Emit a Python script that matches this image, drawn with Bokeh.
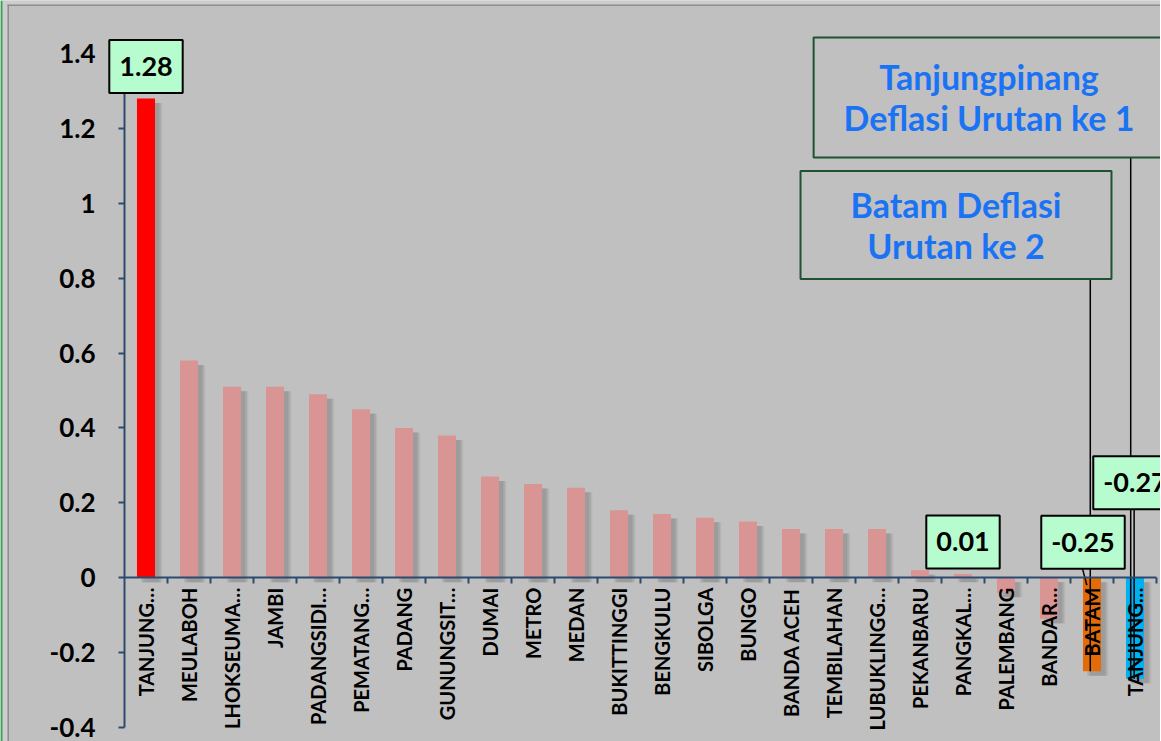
import math
from bokeh.plotting import figure
from bokeh.models import Range1d, FixedTicker, Label, BoxAnnotation
from bokeh.embed import file_html
from bokeh.resources import INLINE

# ---------------- data ----------------
cities = ["TANJUNG…", "MEULABOH", "LHOKSEUMA…", "JAMBI", "PADANGSIDI…", "PEMATANG…",
          "PADANG", "GUNUNGSIT…", "DUMAI", "METRO", "MEDAN", "BUKITTINGGI", "BENGKULU",
          "SIBOLGA", "BUNGO", "BANDA ACEH", "TEMBILAHAN", "LUBUKLINGG…", "PEKANBARU",
          "PANGKAL…", "PALEMBANG", "BANDAR…", "BATAM", "TANJUNG…"]
inflation = [1.28, 0.58, 0.51, 0.51, 0.49, 0.45, 0.40, 0.38, 0.27, 0.25, 0.24, 0.18,
             0.17, 0.16, 0.15, 0.13, 0.13, 0.13, 0.02, 0.01, -0.04, -0.11, -0.25, -0.27]
y_ticks = [-0.4, -0.2, 0, 0.2, 0.4, 0.6, 0.8, 1, 1.2, 1.4]
y_tick_labels = ["-0.4", "-0.2", "0", "0.2", "0.4", "0.6", "0.8", "1", "1.2", "1.4"]
labelled = [0, 19, 22, 23]
callout_texts = ["Tanjungpinang\nDeflasi Urutan ke 1", "Batam Deflasi\nUrutan ke 2"]
callout_bars = [23, 22]

# ---------------- style / layout ----------------
BG = "#C0C0C0"
AXIS = "#2c4a6e"
FONT = "Lato"
base_color = "#D99594"
special_colors = {0: "#FF0000", 22: "#E36C09", 23: "#00B0F0"}
colors = [special_colors.get(i, base_color) for i in range(len(cities))]
# label offsets (px) relative to bar end
label_offsets = {0: (0, 32), 19: (0, 32), 22: (-9, 129), 23: (0, 196)}
# callout: (x offset px, y centre data, y bottom data, padding (h, v), leader dx)
callout_layout = [(-146, 1.2825, 1.122, (30, 19), -0.1),
                  (-136, 0.942, 0.796, (50, 13), -0.04)]

W, H = 1160, 741
PX_PER_CAT = 43.0
PX_PER_UNIT = 374.4
AXIS_X_PX = 124      # y-axis pixel position
TOP_PX = 53          # pixel of y = 1.4

n = len(cities)
xc = [i + 0.5 for i in range(n)]
x0 = -AXIS_X_PX / PX_PER_CAT
x1 = x0 + W / PX_PER_CAT
y1 = y_ticks[-1] + TOP_PX / PX_PER_UNIT
y0 = y1 - H / PX_PER_UNIT

def px_x(px):
    return x0 + px / PX_PER_CAT

def px_y(px):
    return y1 - px / PX_PER_UNIT

p = figure(width=W, height=H, x_range=Range1d(x0, x1), y_range=Range1d(y0, y1),
           output_backend="svg", toolbar_location=None,
           min_border_left=0, min_border_right=0, min_border_top=0, min_border_bottom=0)
p.background_fill_color = BG
p.border_fill_color = BG
p.outline_line_color = None
p.grid.visible = False

# outer frame decoration (slide margin + chart border)
deco = dict(fill_alpha=1, line_alpha=0)
p.add_layout(BoxAnnotation(right=px_x(7), fill_color="#cdcdcd", **deco))
p.add_layout(BoxAnnotation(bottom=px_y(4), left=px_x(7), fill_color="#cdcdcd", **deco))
p.add_layout(BoxAnnotation(left=px_x(7), right=px_x(8.5), top=px_y(4), fill_color="#8e8e8e", **deco))
p.add_layout(BoxAnnotation(left=px_x(7), top=px_y(4), bottom=px_y(5.5), fill_color="#8e8e8e", **deco))
p.add_layout(BoxAnnotation(right=px_x(2), fill_color="#3aa655", **deco))

# shadows
sh_top = [max(v, 0) - 0.012 for v in inflation]
sh_bot = [min(v, 0) - 0.012 for v in inflation]
for dx, w, a in [(0.10, 0.42, 0.22), (0.14, 0.42, 0.16), (0.18, 0.40, 0.10)]:
    p.vbar(x=[x + dx for x in xc], top=sh_top, bottom=sh_bot, width=w,
           fill_color="#6a6a6a", fill_alpha=a, line_color=None)

p.vbar(x=xc, top=inflation, bottom=0, width=0.42, fill_color=colors, line_color=None)

# leader lines
for k, (dx, yc, yb, pad, ldx) in zip(callout_bars, callout_layout):
    p.segment(x0=[xc[k] + ldx], y0=[inflation[k]], x1=[xc[k] + ldx], y1=[yb],
              line_color="black", line_width=1.5)
p.segment(x0=[xc[23] - 0.02], y0=[inflation[23]], x1=[xc[23] - 0.02], y1=[0.19],
          line_color="black", line_width=1.5)
p.segment(x0=[xc[22] - 0.24], y0=[0.032], x1=[xc[22] - 0.12], y1=[-0.02],
          line_color="black", line_width=1.5)

# axes
yax = p.yaxis[0]
yax.fixed_location = 0
yax.ticker = FixedTicker(ticks=y_ticks)
yax.bounds = (y_ticks[0], y_ticks[-1])
yax.major_label_overrides = dict(zip(y_ticks, y_tick_labels))
yax.axis_line_color = AXIS
yax.axis_line_width = 2
yax.major_tick_line_color = AXIS
yax.major_tick_line_width = 2
yax.major_tick_out = 6
yax.major_tick_in = 0
yax.minor_tick_line_color = None
yax.major_label_text_font = FONT
yax.major_label_text_font_style = "bold"
yax.major_label_text_font_size = "26px"
yax.major_label_text_color = "black"
yax.major_label_standoff = 23

xax = p.xaxis[0]
xax.fixed_location = 0
xax.ticker = FixedTicker(ticks=xc, minor_ticks=list(range(1, n + 1)))
xax.bounds = (0, n)
xax.major_label_overrides = dict(zip(xc, cities))
xax.major_label_orientation = math.pi / 2
xax.axis_line_color = AXIS
xax.axis_line_width = 2
xax.major_tick_line_color = None
xax.major_tick_out = 0
xax.major_tick_in = 0
xax.minor_tick_line_color = AXIS
xax.minor_tick_line_width = 2
xax.minor_tick_out = 6
xax.minor_tick_in = 0
xax.major_label_text_font = FONT
xax.major_label_text_font_style = "bold"
xax.major_label_text_font_size = "20px"
xax.major_label_text_color = "black"
xax.major_label_standoff = 4

# data labels
for k in labelled:
    dx, dy = label_offsets[k]
    p.add_layout(Label(x=xc[k], y=inflation[k], x_offset=dx, y_offset=dy,
                       text=f"{inflation[k]:.2f}", text_font=FONT, text_font_style="bold",
                       text_font_size="27px", text_color="black", text_align="center",
                       text_baseline="middle", background_fill_color="#B6FCCF",
                       border_line_color="black", border_line_width=2, padding=(10, 17)))

# callouts
for txt, k, (dx, yc, yb, pad, ldx) in zip(callout_texts, callout_bars, callout_layout):
    p.add_layout(Label(x=xc[k], y=yc, x_offset=dx, text=txt, text_font=FONT,
                       text_font_style="bold", text_font_size="34px", text_color="#1a73f5",
                       text_align="center", text_baseline="middle", text_line_height=1.0,
                       border_line_color="#1f5230", border_line_width=2, padding=pad))

open("out.html", "w").write(file_html(p, INLINE))
